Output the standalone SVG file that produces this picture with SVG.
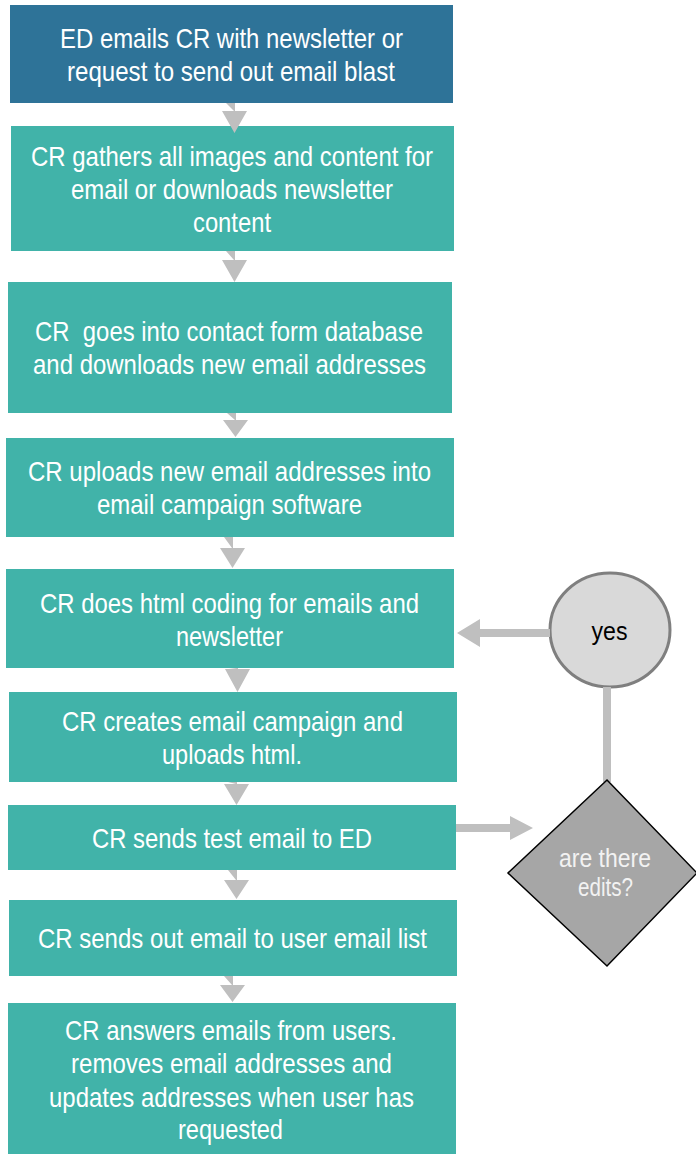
<svg xmlns="http://www.w3.org/2000/svg" width="696" height="1155" viewBox="0 0 696 1155">
<style>
.box{fill:#41B3A9}
.top{fill:#2E7398}
.t{font-family:"Liberation Sans",Arial,sans-serif;font-size:28px;fill:#FFFFFF;text-anchor:middle}
.arr{fill:#BFBFBF}
.d{font-family:"Liberation Sans",Arial,sans-serif;font-size:26px;text-anchor:middle}
</style>
<rect width="696" height="1155" fill="#FFFFFF"/>
<g id="n1">
<rect class="top" x="10" y="5" width="443" height="98"/>
<text class="t" x="231.5" y="48" textLength="343" lengthAdjust="spacingAndGlyphs">ED emails CR with newsletter or</text>
<text class="t" x="231" y="81" textLength="328" lengthAdjust="spacingAndGlyphs">request to send out email blast</text>
</g>
<g id="n2">
<rect class="box" x="11" y="126" width="443" height="125"/>
<text class="t" x="232" y="166" textLength="402" lengthAdjust="spacingAndGlyphs">CR gathers all images and content for</text>
<text class="t" x="232" y="199" textLength="322" lengthAdjust="spacingAndGlyphs">email or downloads newsletter</text>
<text class="t" x="232" y="232" textLength="78" lengthAdjust="spacingAndGlyphs">content</text>
</g>
<g id="n3">
<rect class="box" x="8" y="282" width="444" height="131"/>
<text class="t" x="229" y="341" textLength="388" lengthAdjust="spacingAndGlyphs" xml:space="preserve">CR  goes into contact form database</text>
<text class="t" x="229.5" y="374" textLength="393" lengthAdjust="spacingAndGlyphs">and downloads new email addresses</text>
</g>
<g id="n4">
<rect class="box" x="6" y="438" width="448" height="99"/>
<text class="t" x="229.5" y="481" textLength="403" lengthAdjust="spacingAndGlyphs">CR uploads new email addresses into</text>
<text class="t" x="229.5" y="514" textLength="265" lengthAdjust="spacingAndGlyphs">email campaign software</text>
</g>
<g id="n5">
<rect class="box" x="6" y="569" width="448" height="99"/>
<text class="t" x="229.5" y="613" textLength="379" lengthAdjust="spacingAndGlyphs">CR does html coding for emails and</text>
<text class="t" x="229.5" y="646" textLength="107" lengthAdjust="spacingAndGlyphs">newsletter</text>
</g>
<g id="n6">
<rect class="box" x="9" y="692" width="448" height="90"/>
<text class="t" x="232.5" y="731" textLength="341" lengthAdjust="spacingAndGlyphs">CR creates email campaign and</text>
<text class="t" x="232" y="764" textLength="140" lengthAdjust="spacingAndGlyphs">uploads html.</text>
</g>
<g id="n7">
<rect class="box" x="8" y="805" width="448" height="65"/>
<text class="t" x="232" y="848" textLength="280" lengthAdjust="spacingAndGlyphs">CR sends test email to ED</text>
</g>
<g id="n8">
<rect class="box" x="9" y="900" width="448" height="76"/>
<text class="t" x="232.5" y="948" textLength="389" lengthAdjust="spacingAndGlyphs">CR sends out email to user email list</text>
</g>
<g id="n9">
<rect class="box" x="8" y="1003" width="448" height="151"/>
<text class="t" x="231" y="1040" textLength="332" lengthAdjust="spacingAndGlyphs">CR answers emails from users.</text>
<text class="t" x="231.5" y="1073" textLength="321" lengthAdjust="spacingAndGlyphs">removes email addresses and</text>
<text class="t" x="231.5" y="1107" textLength="365" lengthAdjust="spacingAndGlyphs">updates addresses when user has</text>
<text class="t" x="230.5" y="1139" textLength="105" lengthAdjust="spacingAndGlyphs">requested</text>
</g>
<g id="yes">
<ellipse cx="610" cy="630" rx="60" ry="57" fill="#D9D9D9" stroke="#7F7F7F" stroke-width="3"/>
<text class="d" x="609.5" y="640" fill="#000000" font-size="27" textLength="36" lengthAdjust="spacingAndGlyphs">yes</text>
</g>
<g id="connectors">
<path class="arr" d="M226,103 h9 v8 h12 l-12.5,22 l-12.5,-22 h12 z"/>
<path class="arr" d="M226,251 h9 v9 h12 l-12.5,22 l-12.5,-22 h12 z"/>
<path class="arr" d="M227,413 h9 v7 h12 l-12.5,17 l-12.5,-17 h12 z"/>
<path class="arr" d="M224,537 h9 v11 h12 l-12.5,20 l-12.5,-20 h12 z"/>
<path class="arr" d="M229,668 h9 v1 h12 l-12.5,23 l-12.5,-23 h12 z"/>
<path class="arr" d="M228,782 h9 v2 h12 l-12.5,21 l-12.5,-21 h12 z"/>
<path class="arr" d="M228,870 h9 v10 h12 l-12.5,19 l-12.5,-19 h12 z"/>
<path class="arr" d="M224,976 h9 v9 h12 l-12.5,17 l-12.5,-17 h12 z"/>
<path class="arr" d="M550,629 v8 h-70 v10 l-23,-14 l23,-14 v10 z"/>
<path class="arr" d="M456,824 h54 v-8 l23,12 l-23,12 v-8 h-54 z"/>
<rect class="arr" x="603" y="687" width="8" height="95"/>
</g>
<g id="decision">
<polygon points="607,780 697,873 607,966 508,873" fill="#A6A6A6" stroke="#000000" stroke-width="1.5"/>
<text class="d" x="605" y="867" fill="#F2F2F2" textLength="92" lengthAdjust="spacingAndGlyphs">are there</text>
<text class="d" x="605.5" y="896" fill="#F2F2F2" textLength="55" lengthAdjust="spacingAndGlyphs">edits?</text>
</g>
</svg>
